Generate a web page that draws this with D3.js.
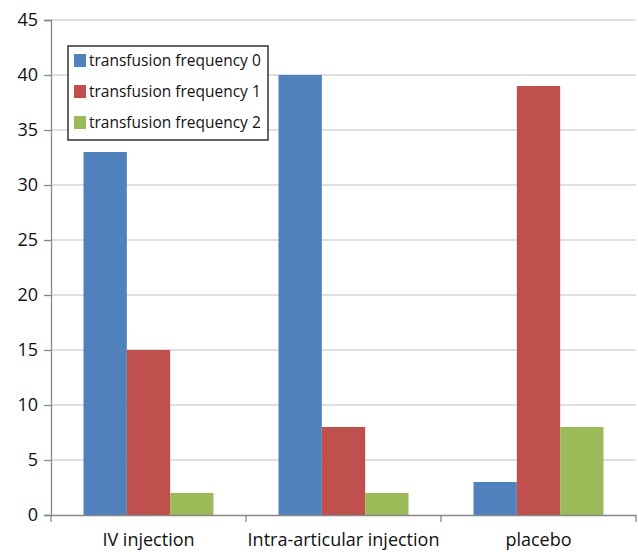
<!DOCTYPE html>
<html><head><meta charset="utf-8">
<script src="https://cdn.jsdelivr.net/npm/d3@7"></script>
<style>body{margin:0;background:#fff}svg{display:block}</style>
</head><body>
<svg id="c" width="638" height="552"></svg>
<script>
const categories = ["IV injection", "Intra-articular injection", "placebo"];
const seriesNames = ["transfusion frequency 0", "transfusion frequency 1", "transfusion frequency 2"];
const freq0 = [33, 40, 3];
const freq1 = [15, 8, 39];
const freq2 = [2, 2, 8];
const yTicks = [0, 5, 10, 15, 20, 25, 30, 35, 40, 45];
const colors = ["#4F81BD", "#C0504D", "#9BBB59"];
const series = [freq0, freq1, freq2];

const svg = d3.select("#c");
const font = "'Open Sans', 'Noto Sans', sans-serif";
const m = {l: 51, r: 2, t: 20, b: 37};
const W = 638, H = 552;
const x = d3.scaleBand().domain(categories).range([m.l, W - m.r]).paddingInner(0).paddingOuter(0);
const y = d3.scaleLinear().domain([0, 45]).range([H - m.b, m.t]);
const xs = d3.scaleBand().domain(d3.range(3)).range([0, x.bandwidth()]).paddingOuter(0.75).paddingInner(0);

// grid
svg.append("g").selectAll("line").data(yTicks.filter(d => d > 0)).join("line")
  .attr("x1", m.l).attr("x2", W - m.r).attr("y1", d => y(d)).attr("y2", d => y(d))
  .attr("stroke", "#d4d4d4").attr("stroke-width", 1.5);

// bars
const g = svg.append("g");
categories.forEach((c, ci) => {
  series.forEach((s, si) => {
    g.append("rect").attr("x", x(c) + xs(si)).attr("width", xs.bandwidth())
      .attr("y", y(s[ci])).attr("height", y(0) - y(s[ci])).attr("fill", colors[si]);
  });
});

// y axis
const ya = svg.append("g").attr("transform", `translate(${m.l},0)`)
  .call(d3.axisLeft(y).tickValues(yTicks).tickSize(7).tickPadding(6));
ya.select(".domain").attr("stroke", "#888").attr("stroke-width", 1.3);
ya.selectAll(".tick line").attr("stroke", "#888").attr("stroke-width", 1.3);
ya.selectAll(".tick text").attr("font-family", font).attr("font-size", 18).attr("fill", "#111");

// x axis
const xa = svg.append("g").attr("transform", `translate(0,${y(0)})`)
  .call(d3.axisBottom(x).tickSize(0).tickPadding(18));
xa.select(".domain").attr("stroke", "#888").attr("stroke-width", 1.3);
xa.selectAll(".tick text").attr("font-family", font).attr("font-size", 18).attr("fill", "#111");
svg.append("g").selectAll("line").data(categories.concat([null])).join("line")
  .attr("x1", (d, i) => i < 3 ? x(d) : W - m.r).attr("x2", (d, i) => i < 3 ? x(d) : W - m.r)
  .attr("y1", y(0)).attr("y2", y(0) + 7).attr("stroke", "#888").attr("stroke-width", 1.3);

// legend
const lg = svg.append("g").attr("transform", "translate(68,46)");
lg.append("rect").attr("width", 200).attr("height", 94).attr("fill", "#fff").attr("stroke", "#333").attr("stroke-width", 1.5);
seriesNames.forEach((n, i) => {
  lg.append("rect").attr("x", 6).attr("y", 8 + i * 31).attr("width", 12).attr("height", 13).attr("fill", colors[i]);
  lg.append("text").attr("x", 21).attr("y", 20 + i * 31).attr("font-family", font).attr("font-size", 15.5)
    .attr("fill", "#111").text(n);
});
</script>
</body></html>
